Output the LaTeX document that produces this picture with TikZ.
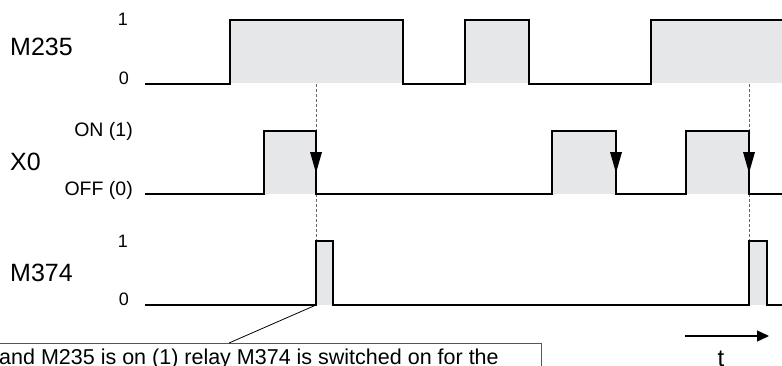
\documentclass[tikz,border=0pt]{standalone}
\usepackage{fontspec}
\setmainfont{Liberation Sans}
\usetikzlibrary{arrows.meta}
\definecolor{sigfill}{HTML}{E6E7E8}
\definecolor{boxline}{HTML}{555555}
\begin{document}
\begin{tikzpicture}[x=1pt,y=-1pt,
  sig/.style={line width=2.4pt,line join=miter,black},
  fillarea/.style={fill=sigfill},
  guide/.style={line width=0.7pt,densely dashed,gray!80!black},
  tiny/.style={font=\fontsize{18}{20}\selectfont,inner sep=0pt},
  lvl/.style={font=\fontsize{19.5}{21}\selectfont,inner sep=0pt},
  big/.style={font=\fontsize{25}{27}\selectfont,inner sep=0pt,anchor=west},
  fallarrow/.style={fill=black}
]
\useasboundingbox (0,0) rectangle (782,365);
% fills
\fill[fillarea] (230,20) rectangle (403,83);
\fill[fillarea] (465,20) rectangle (529,83);
\fill[fillarea] (651,20) rectangle (782,83);
\fill[fillarea] (264,131) rectangle (316,194);
\fill[fillarea] (552,131) rectangle (616,194);
\fill[fillarea] (686,131) rectangle (749,194);
\fill[fillarea] (316,241) rectangle (333,305);
\fill[fillarea] (749,241) rectangle (767,305);
% guides
\draw[guide] (316,84) -- (316,241);
\draw[guide] (749,84) -- (749,241);
% M235
\draw[sig] (145,84) -- (230,84) -- (230,20) -- (403,20) -- (403,84) -- (465,84) -- (465,20) -- (529,20) -- (529,84) -- (651,84) -- (651,20) -- (783,20);
% X0
\draw[sig] (145,194) -- (264,194) -- (264,131) -- (316,131) -- (316,194) -- (552,194) -- (552,131) -- (616,131) -- (616,194) -- (686,194) -- (686,131) -- (749,131) -- (749,194) -- (783,194);
\foreach \xx in {316,616,749}
  \fill[fallarrow] (\xx-6,152) -- (\xx+6,152) -- (\xx,173) -- cycle;
% M374
\draw[sig] (145,305) -- (316,305) -- (316,241) -- (333,241) -- (333,305) -- (749,305) -- (749,241) -- (767,241) -- (767,305) -- (783,305);
% labels
\node[big] (lm235) at (10,47) {M235};
\node[big] (lx0) at (10,162) {X0};
\node[big] (lm374) at (10,273) {M374};
\node[tiny,anchor=east] (a1) at (128,19) {1};
\node[tiny,anchor=east] (a0) at (129,78) {0};
\node[lvl,anchor=east] (b1) at (133,131) {ON (1)};
\node[lvl,anchor=east] (b0) at (133,190) {OFF (0)};
\node[tiny,anchor=east] (c1) at (128,241) {1};
\node[tiny,anchor=east] (c0) at (129,299) {0};
% time arrow
\coordinate (ts) at (685,336);
\coordinate (te) at (769,336);
\draw[line width=1.2pt,-{Triangle[length=12pt,width=11pt]}] (ts) -- (te);
\node[font=\fontsize{24}{26}\selectfont,inner sep=0pt,anchor=base] (tl) at (721,366) {t};
% note box
\draw[boxline,line width=0.8pt] (-5,343) -- (541,343) -- (541,370);
\node[font=\fontsize{21.5}{23}\selectfont,inner sep=0pt,anchor=base west] (note) at (-1,364) {and M235 is on (1) relay M374 is switched on for the};
\coordinate (pt) at (229,343);
\coordinate (ps) at (316,305);
\draw[line width=0.8pt] (ps) -- (pt);
\end{tikzpicture}
\end{document}
